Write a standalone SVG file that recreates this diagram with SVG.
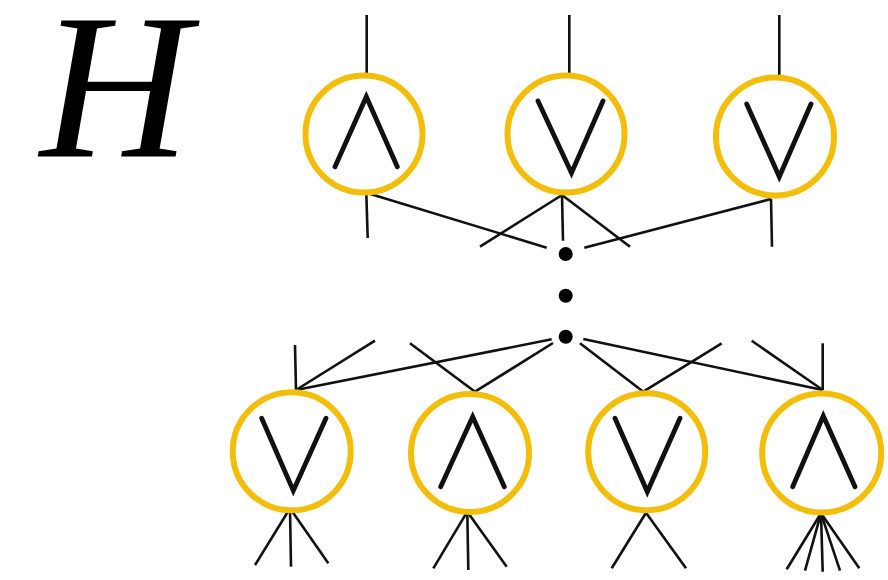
<svg xmlns="http://www.w3.org/2000/svg" width="888" height="580" viewBox="0 0 888 580">
  <style>
    .gate { fill: #ffffff; stroke: #F3BE0A; stroke-width: 6; }
    .op { fill: none; stroke: #111111; stroke-width: 4.8; stroke-linecap: round; stroke-linejoin: miter; }
    .wire { stroke: #111111; stroke-width: 2.6; stroke-linecap: butt; fill: none; }
    .dot { fill: #000000; }
    .title { font-family: "Liberation Serif", "DejaVu Serif", serif; font-style: italic; font-size: 208px; fill: #000000; }
  </style>

  <text class="title" x="40" y="157">H</text>

  <!-- wires between gates and the elided middle layers -->
  <g id="connectors" class="wire">
    <!-- top outputs -->
    <line x1="366.7" y1="15" x2="366.7" y2="73"/>
    <line x1="569.3" y1="15" x2="569.3" y2="73"/>
    <line x1="779.3" y1="15" x2="779.3" y2="75"/>
    <!-- top-row inputs -->
    <line x1="366.3" y1="192.7" x2="367.7" y2="238"/>
    <line x1="366.3" y1="192.7" x2="546.7" y2="247.7"/>
    <line x1="562" y1="195" x2="480" y2="246.7"/>
    <line x1="562" y1="195" x2="563" y2="240.7"/>
    <line x1="562" y1="195" x2="630" y2="246.7"/>
    <line x1="771" y1="199" x2="772" y2="246.7"/>
    <line x1="771" y1="199" x2="584.3" y2="247.7"/>
    <!-- bottom-row outputs -->
    <line x1="296" y1="390" x2="295" y2="345"/>
    <line x1="296" y1="390" x2="375" y2="340.7"/>
    <line x1="296" y1="390" x2="551.7" y2="339.3"/>
    <line x1="475" y1="391.7" x2="410" y2="343.3"/>
    <line x1="475" y1="391.7" x2="553" y2="343"/>
    <line x1="643.3" y1="391.7" x2="580" y2="343.3"/>
    <line x1="643.3" y1="391.7" x2="721.7" y2="343.3"/>
    <line x1="822.7" y1="390" x2="822.7" y2="343.3"/>
    <line x1="822.7" y1="390" x2="751.7" y2="340.7"/>
    <line x1="822.7" y1="390" x2="583.3" y2="339"/>
    <!-- bottom-row inputs -->
    <line x1="290" y1="508.3" x2="255" y2="565"/>
    <line x1="290" y1="508.3" x2="291" y2="566.7"/>
    <line x1="290" y1="508.3" x2="328.3" y2="563.3"/>
    <line x1="467.3" y1="511.7" x2="433.3" y2="568.3"/>
    <line x1="467.3" y1="511.7" x2="468.3" y2="570"/>
    <line x1="467.3" y1="511.7" x2="506.7" y2="566.7"/>
    <line x1="646" y1="512.7" x2="611.7" y2="568.3"/>
    <line x1="646" y1="512.7" x2="686" y2="568.3"/>
    <line x1="821" y1="513.3" x2="786.7" y2="569.3"/>
    <line x1="821" y1="513.3" x2="805" y2="570.7"/>
    <line x1="821" y1="513.3" x2="822.7" y2="571.7"/>
    <line x1="821" y1="513.3" x2="840" y2="570.7"/>
    <line x1="821" y1="513.3" x2="859.3" y2="568.3"/>
  </g>

  <g id="ellipsis">
    <circle class="dot" cx="565.7" cy="254" r="7"/>
    <circle class="dot" cx="565.7" cy="295.7" r="7"/>
    <circle class="dot" cx="565.7" cy="336.7" r="7"/>
  </g>

  <!-- top row -->
  <g id="top-and">
    <circle class="gate" cx="364" cy="134" r="58.5"/>
    <polyline class="op" points="335,166.7 366.3,96.7 397.3,166.7"/>
  </g>
  <g id="top-or-1">
    <circle class="gate" cx="566" cy="134" r="58.5"/>
    <polyline class="op" points="538,101 571.5,173 603,101"/>
  </g>
  <g id="top-or-2">
    <circle class="gate" cx="775" cy="136.5" r="59"/>
    <polyline class="op" points="746.7,104 779.3,176.7 811,104"/>
  </g>

  <!-- bottom row -->
  <g id="bottom-or-1">
    <circle class="gate" cx="291.7" cy="451.3" r="59"/>
    <polyline class="op" points="261.7,418.3 293.3,490.7 326,418.3"/>
  </g>
  <g id="bottom-and-1">
    <circle class="gate" cx="470" cy="453" r="59"/>
    <polyline class="op" points="440.7,486.7 472.7,416.7 504.3,486.7"/>
  </g>
  <g id="bottom-or-2">
    <circle class="gate" cx="646.7" cy="451.7" r="58.5"/>
    <polyline class="op" points="615,418.3 647.3,491.7 680,418.3"/>
  </g>
  <g id="bottom-and-2">
    <circle class="gate" cx="821.7" cy="453" r="59.5"/>
    <polyline class="op" points="792.7,486.7 823.3,416 855,486.7"/>
  </g>
</svg>
